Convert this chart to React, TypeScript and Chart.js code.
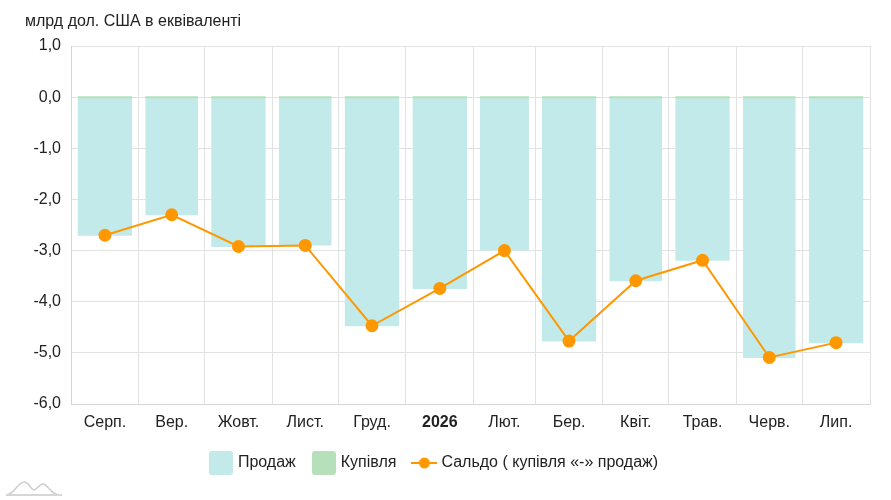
import React, { useEffect, useRef } from 'react';
import { Chart, registerables } from 'chart.js';

Chart.register(...registerables);

const unitLabel = 'млрд дол. США в еквіваленті';
const months = ['Серп.', 'Вер.', 'Жовт.', 'Лист.', 'Груд.', '2026', 'Лют.', 'Бер.', 'Квіт.', 'Трав.', 'Черв.', 'Лип.'];
// days in each month, Aug 2025 .. Jul 2026 (time axis)
const monthDays = [31, 30, 31, 30, 31, 31, 28, 31, 30, 31, 30, 31];
const sales = [-2.71, -2.31, -2.93, -2.9, -4.48, -3.75, -3.0, -4.78, -3.6, -3.2, -5.1, -4.81];
const purchases = [0, 0, 0, 0, 0, 0, 0, 0, 0, 0, 0, 0];
const balance = [-2.7, -2.3, -2.92, -2.9, -4.47, -3.74, -3.0, -4.77, -3.59, -3.19, -5.09, -4.8];

const monthStarts = monthDays.reduce((acc, d) => [...acc, acc[acc.length - 1] + d], [0]);
const monthMids = monthDays.map((d, i) => monthStarts[i] + d / 2);
const totalDays = monthStarts[monthStarts.length - 1];

const FONT = '"Liberation Sans", Arial, sans-serif';
const TEXT = '#222';
const GRID = '#e2e2e2';
const SALES_COLOR = '#c3eaea';
const BUY_COLOR = '#b6e0b9';
const LINE_COLOR = '#ff9800';

function boxIcon(color: string) {
  const c = document.createElement('canvas');
  c.width = 24;
  c.height = 24;
  const g = c.getContext('2d')!;
  const r = 3;
  g.fillStyle = color;
  g.beginPath();
  g.moveTo(r, 0);
  g.lineTo(24 - r, 0);
  g.arcTo(24, 0, 24, r, r);
  g.lineTo(24, 24 - r);
  g.arcTo(24, 24, 24 - r, 24, r);
  g.lineTo(r, 24);
  g.arcTo(0, 24, 0, 24 - r, r);
  g.lineTo(0, r);
  g.arcTo(0, 0, r, 0, r);
  g.fill();
  return c;
}

function lineIcon(color: string) {
  const c = document.createElement('canvas');
  c.width = 26;
  c.height = 12;
  const g = c.getContext('2d')!;
  g.strokeStyle = color;
  g.lineWidth = 2;
  g.beginPath();
  g.moveTo(0, 6);
  g.lineTo(26, 6);
  g.stroke();
  g.fillStyle = color;
  g.beginPath();
  g.arc(13, 6, 5.5, 0, Math.PI * 2);
  g.fill();
  return c;
}

const unitTitle = {
  id: 'unitTitle',
  afterDraw(chart: Chart) {
    const { ctx } = chart;
    ctx.save();
    ctx.font = `16px ${FONT}`;
    ctx.fillStyle = TEXT;
    ctx.textBaseline = 'middle';
    ctx.fillText(unitLabel, 25, 22);
    ctx.restore();
  },
};

// bars fill 80% of their own month on the time axis
const monthBars = {
  id: 'monthBars',
  afterDatasetsUpdate(chart: Chart) {
    const xs = chart.scales.x;
    chart.data.datasets.forEach((ds: any, di) => {
      if (ds.type === 'line') return;
      chart.getDatasetMeta(di).data.forEach((el: any, i) => {
        const x0 = xs.getPixelForValue(monthStarts[i]);
        const x1 = xs.getPixelForValue(monthStarts[i + 1]);
        el.x = (x0 + x1) / 2;
        el.width = (x1 - x0) * 0.8;
      });
    });
  },
};

const Logo = () => (
  <svg width="60" height="20" viewBox="0 0 60 20" style={{ position: 'absolute', left: 4, top: 478 }}>
    <path d="M2 17 C10 17 14 4 20 4 C25 4 27 12 30 12 C33 12 35 6 39 6 C44 6 46 17 56 17" fill="none" stroke="#cfcfcf" strokeWidth="1.6" />
    <line x1="2" y1="17" x2="58" y2="17" stroke="#d6d6d6" strokeWidth="2" />
  </svg>
);

const App: React.FC = () => {
  const chartRef = useRef<HTMLCanvasElement | null>(null);

  useEffect(() => {
    const ctx = chartRef.current!.getContext('2d')!;
    const icons = [boxIcon(SALES_COLOR), boxIcon(BUY_COLOR), lineIcon(LINE_COLOR)];
    const pts = (vals: number[]) => vals.map((y, i) => ({ x: monthMids[i], y }));

    const chart = new Chart(ctx, {
      type: 'bar',
      data: {
        datasets: [
          {
            label: 'Продаж',
            data: pts(sales),
            backgroundColor: SALES_COLOR,
            grouped: false,
            order: 2,
          },
          {
            label: 'Купівля',
            data: pts(purchases),
            backgroundColor: BUY_COLOR,
            grouped: false,
            minBarLength: 2,
            order: 1,
          },
          {
            type: 'line',
            label: 'Сальдо ( купівля «-» продаж)',
            data: pts(balance),
            borderColor: LINE_COLOR,
            backgroundColor: LINE_COLOR,
            borderWidth: 2,
            pointRadius: 5.5,
            pointHoverRadius: 5.5,
            tension: 0,
            order: 0,
          } as any,
        ],
      },
      options: {
        responsive: false,
        animation: false,
        layout: { padding: { top: 46, right: 21, left: 0, bottom: 19 } },
        scales: {
          x: {
            type: 'linear',
            min: 0,
            max: totalDays,
            offset: false,
            grid: { display: false, offset: false, drawTicks: false },
            border: { color: '#d4d4d4' },
            afterBuildTicks: (s: any) => {
              s.ticks = monthMids.map((v) => ({ value: v }));
            },
            ticks: {
              color: TEXT,
              padding: 9,
              maxRotation: 0,
              autoSkip: false,
              callback: (_v: any, i: number) => months[i],
              font: (c: any) => ({
                family: FONT,
                size: 16,
                weight: months[c.index] === '2026' ? 'bold' : 'normal',
              }),
            },
            afterFit: (s: any) => {
              s.height = 32;
            },
          },
          xg: {
            type: 'linear',
            position: 'top',
            min: 0,
            max: totalDays,
            offset: false,
            grid: { color: GRID, offset: false, drawTicks: false },
            border: { display: false },
            afterBuildTicks: (s: any) => {
              s.ticks = monthStarts.map((v) => ({ value: v }));
            },
            ticks: { display: false },
            afterFit: (s: any) => {
              s.height = 0;
            },
          },
          y: {
            min: -6,
            max: 1,
            grid: { color: GRID, drawTicks: false },
            border: { color: '#d4d4d4' },
            ticks: {
              stepSize: 1,
              color: TEXT,
              padding: 10,
              font: { family: FONT, size: 16 },
              callback: (v: any) => Number(v).toFixed(1).replace('.', ','),
            },
            afterFit: (s: any) => {
              s.width = 71;
            },
          },
        },
        plugins: {
          title: { display: false },
          tooltip: { enabled: false },
          legend: {
            position: 'bottom',
            labels: {
              usePointStyle: true,
              pointStyleWidth: 18,
              padding: 19,
              color: TEXT,
              font: { family: FONT, size: 16 },
              generateLabels: (ch: Chart) =>
                ch.data.datasets.map((ds, i) => ({
                  text: ds.label as string,
                  pointStyle: icons[i] as any,
                  fillStyle: 'transparent',
                  strokeStyle: 'transparent',
                  lineWidth: 0,
                  hidden: !ch.isDatasetVisible(i),
                  datasetIndex: i,
                  fontColor: TEXT,
                })),
            },
          },
        },
      },
      plugins: [unitTitle, monthBars],
    });
    return () => chart.destroy();
  }, []);

  return (
    <div style={{ position: 'fixed', left: 0, top: 0, width: 891, height: 500, background: '#fff' }}>
      <canvas ref={chartRef} width={891} height={500} />
      <Logo />
    </div>
  );
};

export default App;
